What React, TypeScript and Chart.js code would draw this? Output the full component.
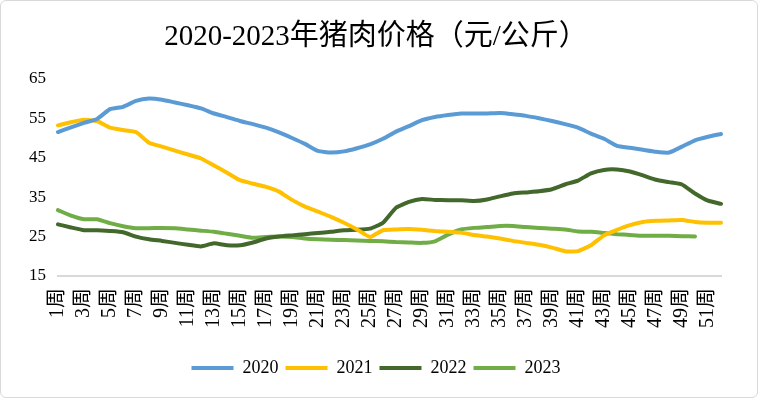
import React, { useEffect, useRef } from "react";
import { Chart, registerables } from "chart.js";

Chart.register(...registerables);

const weeks: string[] = Array.from({ length: 52 }, (_, i) => `${i + 1}周`);

const s2020: number[] = [
  51.5, 52.7, 53.8, 54.8, 57.3, 57.9, 59.4, 60.0, 59.7, 59.0,
  58.3, 57.5, 56.2, 55.3, 54.3, 53.5, 52.6, 51.4, 50.0, 48.5,
  46.7, 46.3, 46.6, 47.4, 48.4, 49.8, 51.6, 53.0, 54.5, 55.3,
  55.8, 56.2, 56.2, 56.2, 56.3, 56.0, 55.6, 55.0, 54.3, 53.5,
  52.6, 51.1, 49.8, 48.0, 47.5, 47.0, 46.5, 46.3, 47.8, 49.4,
  50.3, 51.0,
];
const s2021: number[] = [
  53.2, 54.0, 54.6, 54.3, 52.6, 52.0, 51.5, 48.8, 47.8, 46.8,
  45.8, 44.8, 43.0, 41.2, 39.3, 38.4, 37.6, 36.4, 34.3, 32.6,
  31.3, 30.0, 28.5, 26.8, 24.9, 26.6, 26.8, 26.9, 26.7, 26.4,
  26.2, 26.0, 25.4, 25.0, 24.5, 23.9, 23.4, 22.9, 22.2, 21.3,
  21.3, 22.8, 25.3, 26.7, 27.9, 28.7, 29.0, 29.1, 29.2, 28.7,
  28.5, 28.5,
];
const s2022: number[] = [
  28.1, 27.3, 26.6, 26.6, 26.4, 26.1, 25.0, 24.3, 23.9, 23.4,
  22.9, 22.5, 23.3, 22.8, 22.8, 23.5, 24.5, 25.0, 25.3, 25.6,
  25.9, 26.2, 26.6, 26.7, 27.0, 28.5, 32.3, 33.8, 34.5, 34.3,
  34.2, 34.2, 34.0, 34.4, 35.2, 35.9, 36.2, 36.5, 37.0, 38.2,
  39.2, 41.0, 41.9, 42.0, 41.5, 40.5, 39.4, 38.8, 38.2, 35.9,
  34.1, 33.3,
];
const s2023: (number | null)[] = [
  31.7, 30.3, 29.4, 29.4, 28.4, 27.6, 27.1, 27.1, 27.2, 27.1,
  26.8, 26.5, 26.2, 25.7, 25.2, 24.7, 24.9, 25.0, 24.9, 24.5,
  24.3, 24.2, 24.1, 24.0, 23.9, 23.8, 23.6, 23.5, 23.4, 23.8,
  25.5, 26.8, 27.2, 27.4, 27.7, 27.7, 27.4, 27.2, 27.0, 26.8,
  26.3, 26.2, 25.9, 25.6, 25.4, 25.2, 25.2, 25.2, 25.1, 25.0,
  null, null,
];

const seriesNames: string[] = ["2020", "2021", "2022", "2023"];
const seriesColors: string[] = ["#5B9BD5", "#FFC000", "#43682B", "#70AD47"];
const yTicks: number[] = [15, 25, 35, 45, 55, 65];
const titleText = "2020-2023年猪肉价格（元/公斤）";

const SERIF = "'Times New Roman', 'Liberation Serif', 'Noto Sans CJK SC', serif";

export default function App() {
  const ref = useRef<HTMLCanvasElement | null>(null);

  useEffect(() => {
    document.body.style.margin = "0";
    const canvas = ref.current;
    if (!canvas) return;
    const all = [s2020, s2021, s2022, s2023];
    const chart = new Chart(canvas, {
      type: "line",
      data: {
        labels: weeks,
        datasets: seriesNames.map((name, i) => ({
          label: name,
          data: all[i],
          borderColor: seriesColors[i],
          backgroundColor: seriesColors[i],
          borderWidth: 4,
          pointRadius: 0,
          tension: 0.15,
          fill: false,
          spanGaps: false,
          borderCapStyle: "round" as const,
          borderJoinStyle: "round" as const,
        })),
      },
      options: {
        animation: false,
        responsive: false,
        maintainAspectRatio: false,
        layout: { padding: { left: 16, right: 22, top: 0, bottom: 10 } },
        plugins: {
          title: {
            display: true,
            text: titleText,
            color: "#000",
            font: { family: SERIF, size: 29, weight: "normal" },
            padding: { top: 19, bottom: 24 },
          },
          legend: {
            display: true,
            position: "bottom",
            labels: {
              color: "#000",
              font: { family: SERIF, size: 18 },
              boxWidth: 42,
              boxHeight: 4,
              padding: 7,
              generateLabels: (c: any) =>
                c.data.datasets.map((d: any, i: number) => ({
                  text: d.label,
                  fillStyle: d.borderColor,
                  strokeStyle: d.borderColor,
                  lineWidth: 0,
                  hidden: false,
                  datasetIndex: i,
                  fontColor: "#000",
                })),
            },
          },
          tooltip: { enabled: false },
        },
        scales: {
          x: {
            grid: { display: false, drawTicks: false },
            border: { display: true, color: "#D9D9D9", width: 2 },
            afterFit: (scale: any) => {
              scale.height = 76;
            },
            ticks: {
              autoSkip: false,
              maxRotation: 90,
              minRotation: 90,
              color: "#000",
              padding: 12,
              font: { family: SERIF, size: 20 },
              callback: (_v: any, idx: number) => (idx % 2 === 0 ? weeks[idx] : ""),
            },
          },
          y: {
            min: 15,
            max: 65,
            grid: { display: false, drawTicks: false },
            border: { display: false },
            afterBuildTicks: (axis: any) => {
              axis.ticks = yTicks.map((v) => ({ value: v }));
            },
            ticks: {
              color: "#000",
              padding: 12,
              font: { family: SERIF, size: 17 },
            },
          },
        },
      },
    });
    return () => chart.destroy();
  }, []);

  return (
    <div
      style={{
        width: 758,
        height: 398,
        boxSizing: "border-box",
        border: "1px solid #D9D9D9",
        borderRadius: 6,
        background: "#fff",
        overflow: "hidden",
      }}
    >
      <canvas ref={ref} width={756} height={396} style={{ display: "block" }} />
    </div>
  );
}
